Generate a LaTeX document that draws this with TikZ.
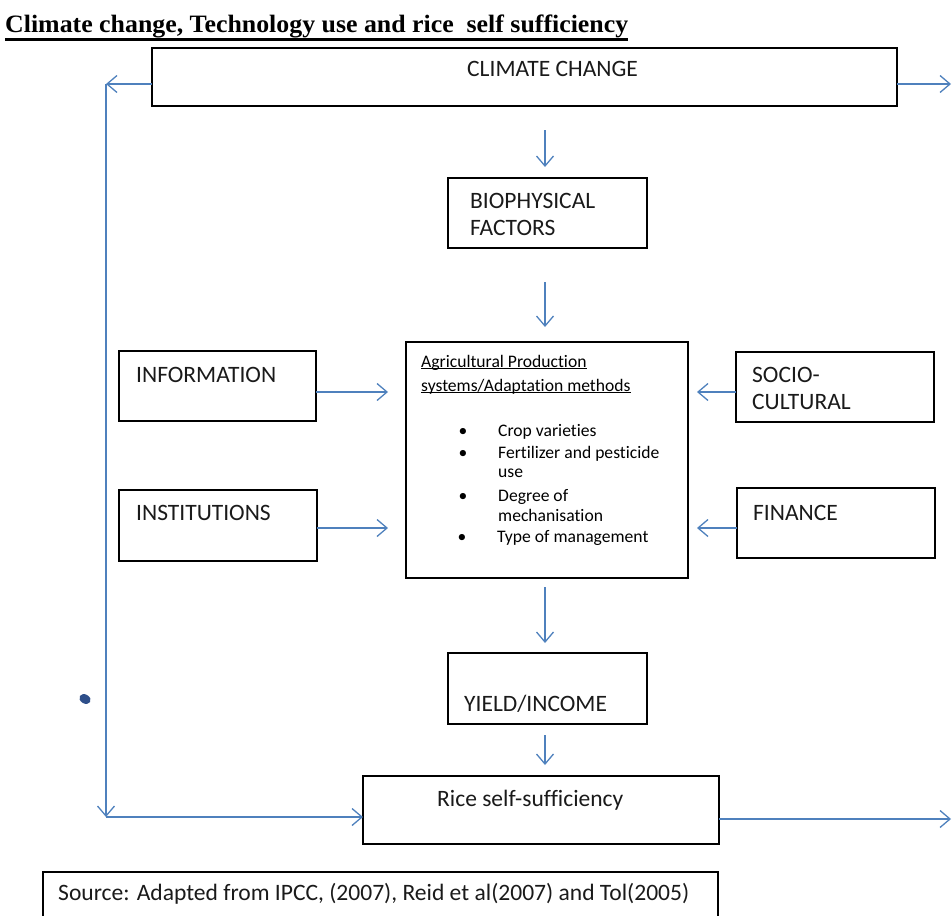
\documentclass[tikz,border=0pt]{standalone}
\usepackage{fontspec}
\setmainfont{Carlito}[Ligatures=NoCommon]
\newfontfamily\titlefont{Liberation Serif}
\usetikzlibrary{arrows.meta}
\definecolor{arrblue}{HTML}{4F81BD}
\definecolor{dotblue}{HTML}{2E4F8A}
\definecolor{txt}{HTML}{1A1A1A}
\tikzset{
  box/.style={draw=black, line width=1.4pt, rectangle, inner sep=0pt, outer sep=0pt, anchor=north west},
  lbl/.style={anchor=base west, inner sep=0pt, text=txt, font=\fontsize{23.5}{28}\selectfont},
  sml/.style={anchor=base west, inner sep=0pt, text=black, font=\fontsize{17.6}{20}\selectfont},
  arr/.style={draw=arrblue, line width=1.3pt, -{Straight Barb[length=10pt,width=17pt]}},
  uline/.style={line width=1pt},
}
\begin{document}
\begin{tikzpicture}[x=1pt,y=-1pt]
\useasboundingbox (0,0) rectangle (952,915);
% title
\node[anchor=base west, inner sep=0pt] (title) at (5,33)
  {\resizebox{623pt}{\height}{\titlefont\bfseries\fontsize{25}{28}\selectfont Climate change, Technology use and rice\ \ self sufficiency}};
\draw[line width=2.4pt] ([yshift=-6.5pt]title.base west) -- ([yshift=-6.5pt]title.base east);
% boxes
\node[box, minimum width=745pt, minimum height=58pt] (climate) at (152,48) {};
\node[box, minimum width=199pt, minimum height=70pt] (bio) at (448,178) {};
\node[box, minimum width=282pt, minimum height=236pt] (agri) at (406,342) {};
\node[box, minimum width=197pt, minimum height=70pt] (info) at (119,351) {};
\node[box, minimum width=198pt, minimum height=71pt] (inst) at (119,490) {};
\node[box, minimum width=198pt, minimum height=70pt] (socio) at (736,352) {};
\node[box, minimum width=198pt, minimum height=70pt] (fin) at (737,488) {};
\node[box, minimum width=199pt, minimum height=71pt] (yield) at (448,653) {};
\node[box, minimum width=356pt, minimum height=68pt] (rice) at (363,776) {};
\node[box, minimum width=675pt, minimum height=70pt] (src) at (43,872) {};
% labels
\node[lbl] (tcl) at (467,77) {CLIMATE CHANGE};
\node[lbl] (tbio1) at (470,208) {BIOPHYSICAL};
\node[lbl] (tbio2) at (470,235) {FACTORS};
\node[lbl] (tinfo) at (136,382) {INFORMATION};
\node[lbl] (tinst) at (136,520) {INSTITUTIONS};
\node[lbl] (tsoc1) at (752,382) {SOCIO-};
\node[lbl] (tsoc2) at (752,409) {CULTURAL};
\node[lbl] (tfin) at (753,520) {FINANCE};
\node[lbl] (tyield) at (464,711) {YIELD/INCOME};
\node[lbl] (trice) at (437,806) {Rice self-sufficiency};
\node[anchor=base west, inner sep=0pt, text=txt] (tsrc) at (58,900)
  {\resizebox{631pt}{\height}{\fontsize{23.5}{28}\selectfont Source: Adapted from IPCC, (2007), Reid et al(2007) and Tol(2005)}};
% central box text
\node[sml] (a1) at (421,367) {Agricultural Production};
\node[sml] (a2) at (421,391) {systems/Adaptation methods};
\draw[uline] ([yshift=-1.5pt]a1.base west) -- ([yshift=-1.5pt]a1.base east);
\draw[uline] ([yshift=-1.5pt]a2.base west) -- ([yshift=-1.5pt]a2.base east);
\node[sml, anchor=base] (b1) at (463,436) {•};
\node[sml, anchor=base] (b2) at (463,458) {•};
\node[sml, anchor=base] (b3) at (463,501) {•};
\node[sml, anchor=base] (b4) at (462,542) {•};
\node[sml] (i1) at (498,436) {Crop varieties};
\node[sml] (i2) at (498,458) {Fertilizer and pesticide};
\node[sml] (i2b) at (498,477) {use};
\node[sml] (i3) at (498,501) {Degree of};
\node[sml] (i3b) at (498,521) {mechanisation};
\node[sml] (i4) at (497,542) {Type of management};
% coordinates
\coordinate (col) at (545,0);
\coordinate (cl) at (106,84);
\coordinate (cb) at (106,817);
\coordinate (cr) at (951,84);
\coordinate (rr) at (951,819);
\coordinate (r1) at (0,392);
\coordinate (r2) at (0,528);
% arrows
\draw[arr] (climate.west |- cl) -- (cl);
\draw[arr] (cl) -- (cb);
\draw[arr] (cb) -- (cb -| rice.west);
\draw[arr] (climate.east |- cr) -- (cr);
\draw[arr] (rice.east |- rr) -- (rr);
\draw[arr, shorten <=24pt, shorten >=11pt] (climate.south -| col) -- (bio.north -| col);
\draw[arr, shorten <=34pt, shorten >=15pt] (bio.south -| col) -- (agri.north -| col);
\draw[arr, shorten <=9pt, shorten >=10pt] (agri.south -| col) -- (yield.north -| col);
\draw[arr, shorten <=11pt, shorten >=11pt] (yield.south -| col) -- (rice.north -| col);
\draw[arr, shorten >=18pt] (info.east |- r1) -- (agri.west |- r1);
\draw[arr, shorten >=18pt] (inst.east |- r2) -- (agri.west |- r2);
\draw[arr, shorten >=9pt] (socio.west |- r1) -- (agri.east |- r1);
\draw[arr, shorten >=9pt] (fin.west |- r2) -- (agri.east |- r2);
% stray dot
\fill[dotblue, rotate around={-30:(85,699)}] (85,699) ellipse (6pt and 4.5pt);
\end{tikzpicture}
\end{document}
